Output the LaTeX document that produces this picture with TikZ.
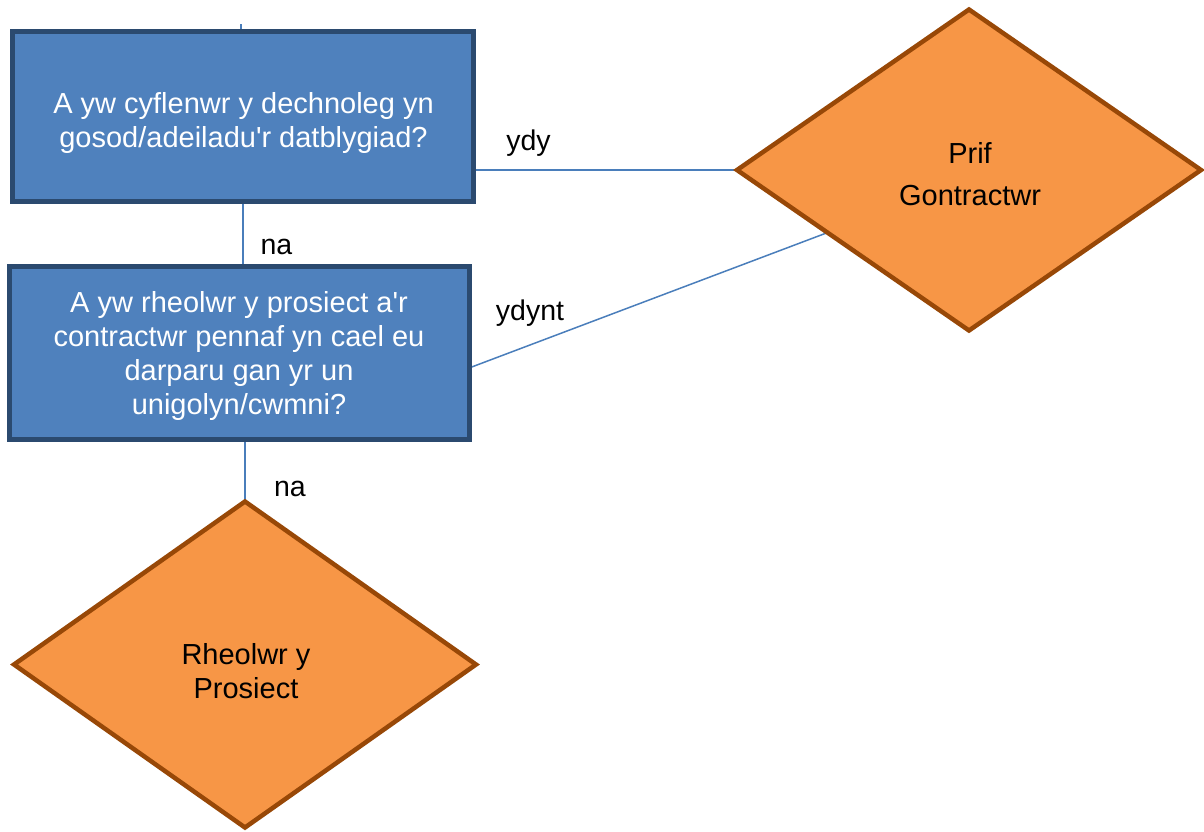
\documentclass[tikz,border=0pt]{standalone}
\usepackage{fontspec}
\setmainfont{Liberation Sans}
\usetikzlibrary{shapes.geometric,calc}
\definecolor{boxfill}{HTML}{4F81BD}
\definecolor{boxline}{HTML}{2B4A6F}
\definecolor{difill}{HTML}{F79646}
\definecolor{diline}{HTML}{984807}
\definecolor{connclr}{HTML}{4A7EBB}
\pgfdeclarelayer{bg}
\pgfsetlayers{bg,main}
\begin{document}
\begin{tikzpicture}[x=1pt,y=-1pt,
  qbox/.style={draw=boxline, fill=boxfill, line width=5pt, rectangle, inner sep=0pt, outer sep=0pt},
  ansdiamond/.style={draw=diline, fill=difill, line width=4.5pt, diamond, inner sep=0pt, outer sep=0pt},
  qtext/.style={text=white, align=center, inner sep=0pt, font=\fontsize{29}{34}\selectfont},
  atext/.style={text=black, align=center, inner sep=0pt},
  lbl/.style={text=black, inner sep=0pt, anchor=base, font=\fontsize{28.5}{34}\selectfont},
  connector/.style={draw=connclr, line width=1.5pt}]
\useasboundingbox (0,0) rectangle (1204,831);

% shapes
\node[qbox, minimum width=461pt, minimum height=170pt] (b1) at (243,116.5) {};
\node[qbox, minimum width=460pt, minimum height=173pt] (b2) at (239.3,352.9) {};
\node[ansdiamond, minimum width=464pt, minimum height=321pt] (d1) at (969,170) {};
\node[ansdiamond, minimum width=462pt, minimum height=326pt] (d2) at (245,664.5) {};

% texts
\node[qtext] (t1) at (243.5,122.5) {A yw cyflenwr y dechnoleg yn\\gosod/adeiladu\textquotesingle r datblygiad?};
\node[qtext] (t2) at (239,356) {A yw rheolwr y prosiect a\textquotesingle r\\contractwr pennaf yn cael eu\\darparu gan yr un\\unigolyn/cwmni?};
\node[atext, font=\fontsize{29}{42}\selectfont] (t3) at (970,173.7) {Prif\\Gontractwr};
\node[atext, font=\fontsize{29}{34}\selectfont] (t4) at (246,671) {Rheolwr y\\Prosiect};

% connectors
\coordinate (top) at (241,24);
\begin{pgfonlayer}{bg}
\draw[connector] (top) -- (top |- b1.north);
\draw[connector] (b1.south) -- (b1.south |- b2.north);
\draw[connector] (d2.north |- b2.south) -- (d2.north);
\draw[connector] (d1.west -| b1.east) -- (d1.west);
\draw[connector] ([yshift=-15pt]b2.east) -- ($(d1.west)!0.39!(d1.south)$);
\end{pgfonlayer}

% labels
\node[lbl] (l1) at (528.5,150) {ydy};
\node[lbl] (l2) at (276.5,254) {na};
\node[lbl] (l3) at (530,320) {ydynt};
\node[lbl] (l4) at (290,496) {na};
\end{tikzpicture}
\end{document}
